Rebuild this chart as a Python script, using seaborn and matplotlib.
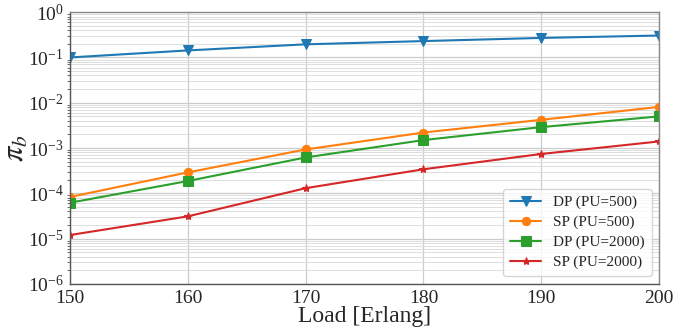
import numpy as np
import pandas as pd
import seaborn as sns
import matplotlib.pyplot as plt
from matplotlib.ticker import LogLocator

# Data
load = [150, 160, 170, 180, 190, 200]
dp_500 = [0.10, 0.143, 0.195, 0.23, 0.27, 0.305]
sp_500 = [8.3e-5, 2.9e-4, 9.3e-4, 2.2e-3, 4.2e-3, 8.1e-3]
dp_2000 = [6.2e-5, 1.87e-4, 6.2e-4, 1.5e-3, 2.9e-3, 5.0e-3]
sp_2000 = [1.2e-5, 3.1e-5, 1.3e-4, 3.4e-4, 7.4e-4, 1.4e-3]

labels = ['DP (PU=500)', 'SP (PU=500)', 'DP (PU=2000)', 'SP (PU=2000)']
series = [dp_500, sp_500, dp_2000, sp_2000]

df = pd.DataFrame({
    'Load': load * 4,
    'pb': sum(series, []),
    'Scheme': np.repeat(labels, len(load)),
})

sns.set_style('whitegrid')
plt.rcParams['font.family'] = ['Liberation Serif', 'DejaVu Serif']
plt.rcParams['mathtext.fontset'] = 'stix'

fig, ax = plt.subplots(figsize=(6.99, 3.29), dpi=100)

markers = {'DP (PU=500)': 'v', 'SP (PU=500)': 'o', 'DP (PU=2000)': 's', 'SP (PU=2000)': '*'}
sizes = {'DP (PU=500)': 7, 'SP (PU=500)': 6, 'DP (PU=2000)': 7, 'SP (PU=2000)': 6}
palette = sns.color_palette('tab10', 4)
for lab, col in zip(labels, palette):
    sub = df[df['Scheme'] == lab]
    sns.lineplot(data=sub, x='Load', y='pb', ax=ax, color=col, marker=markers[lab],
                 markersize=sizes[lab], markeredgecolor=col, linewidth=1.5, label=lab)

ax.set_yscale('log')
ax.set_ylim(1e-6, 1)
ax.set_xlim(150, 200)
ax.yaxis.set_major_locator(LogLocator(base=10, numticks=10))
ax.yaxis.set_minor_locator(LogLocator(base=10, subs=np.arange(2, 10), numticks=20))
ax.grid(True, which='major', color='#cccccc', linewidth=0.9)
ax.grid(True, which='minor', color='#dddddd', linewidth=0.7)
ax.tick_params(axis='both', which='major', labelsize=14, pad=1)
ax.tick_params(axis='y', which='minor', left=True, length=2, color='#555555')

for s in ax.spines.values():
    s.set_color('#888888')
    s.set_linewidth(1.0)
ax.spines['left'].set_color('#555555')
ax.spines['bottom'].set_color('#555555')

ax.set_xlabel('Load [Erlang]', fontsize=17, labelpad=-1)
ax.set_ylabel(r'$\pi_b$', fontsize=22, labelpad=-2)

ax.legend(loc='lower right', fontsize=11, framealpha=0.8, borderpad=0.45,
          handlelength=2.0, handletextpad=0.8, labelspacing=0.4)

fig.subplots_adjust(left=0.10, right=0.943, top=0.963, bottom=0.137)
fig.savefig('out.png', dpi=100)
